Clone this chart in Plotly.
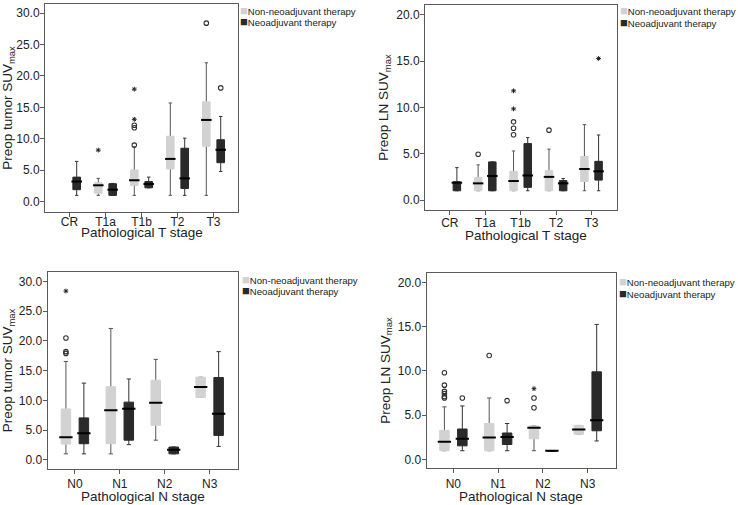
import plotly.graph_objects as go

t_stages = ["CR", "T1a", "T1b", "T2", "T3"]
n_stages = ["N0", "N1", "N2", "N3"]

# --- Preop tumor SUVmax by pathological T stage ---
tt_non_x = ["T1a", "T1b", "T2", "T3"]
tt_non_low = [1.0, 1.0, 1.0, 1.0]
tt_non_q1 = [1.35, 2.55, 5.2, 8.8]
tt_non_med = [2.6, 3.4, 6.8, 13.0]
tt_non_q3 = [3.0, 5.05, 10.4, 15.9]
tt_non_high = [3.7, 8.7, 15.7, 22.1]
tt_non_circ_x = ["T1b", "T1b", "T1b", "T3"]
tt_non_circ_y = [9.0, 11.75, 12.15, 28.4]
tt_non_star_x = ["T1a", "T1b", "T1b"]
tt_non_star_y = [8.2, 13.1, 17.9]

tt_neo_x = ["CR", "T1a", "T1b", "T2", "T3"]
tt_neo_low = [1.0, 1.0, 2.2, 1.0, 4.8]
tt_neo_q1 = [1.9, 1.0, 2.2, 2.1, 6.2]
tt_neo_med = [3.2, 1.9, 2.8, 3.7, 8.25]
tt_neo_q3 = [3.9, 2.85, 3.2, 8.5, 9.85]
tt_neo_high = [6.4, 2.9, 3.9, 10.1, 13.55]
tt_neo_circ_x = ["T3"]
tt_neo_circ_y = [18.1]
tt_neo_star_x = []
tt_neo_star_y = []

# --- Preop LN SUVmax by pathological T stage ---
lt_non_x = ["T1a", "T1b", "T2", "T3"]
lt_non_low = [1.0, 1.0, 1.0, 1.0]
lt_non_q1 = [1.0, 1.0, 1.0, 2.0]
lt_non_med = [1.8, 2.05, 2.5, 3.35]
lt_non_q3 = [2.45, 3.1, 3.2, 4.7]
lt_non_high = [3.8, 5.3, 5.5, 8.15]
lt_non_circ_x = ["T1a", "T1b", "T1b", "T1b", "T2"]
lt_non_circ_y = [4.95, 7.05, 7.75, 8.45, 7.55]
lt_non_star_x = ["T1b", "T1b"]
lt_non_star_y = [9.85, 11.8]

lt_neo_x = ["CR", "T1a", "T1b", "T2", "T3"]
lt_neo_low = [1.0, 1.0, 1.0, 1.0, 1.0]
lt_neo_q1 = [1.0, 1.0, 1.37, 1.0, 2.15]
lt_neo_med = [1.87, 2.6, 2.65, 1.8, 3.1]
lt_neo_q3 = [1.98, 4.12, 6.1, 2.1, 4.18]
lt_neo_high = [3.5, 4.12, 6.75, 2.32, 7.03]
lt_neo_circ_x = []
lt_neo_circ_y = []
lt_neo_star_x = ["T3"]
lt_neo_star_y = [15.3]

# --- Preop tumor SUVmax by pathological N stage ---
tn_non_x = ["N0", "N1", "N2", "N3"]
tn_non_low = [1.0, 1.0, 3.3, 10.5]
tn_non_q1 = [2.65, 2.7, 5.8, 10.5]
tn_non_med = [3.8, 8.35, 9.6, 12.25]
tn_non_q3 = [8.55, 12.3, 13.4, 13.9]
tn_non_high = [16.55, 22.1, 16.9, 13.9]
tn_non_circ_x = ["N0", "N0", "N0"]
tn_non_circ_y = [17.9, 18.2, 20.5]
tn_non_star_x = ["N0"]
tn_non_star_y = [28.4]

tn_neo_x = ["N0", "N1", "N2", "N3"]
tn_neo_low = [1.0, 2.55, 1.0, 2.25]
tn_neo_q1 = [2.7, 3.3, 1.0, 4.1]
tn_neo_med = [4.45, 8.6, 1.7, 7.75]
tn_neo_q3 = [7.05, 9.7, 2.15, 13.85]
tn_neo_high = [12.9, 13.6, 2.15, 18.2]
tn_neo_circ_x = []
tn_neo_circ_y = []
tn_neo_star_x = []
tn_neo_star_y = []

# --- Preop LN SUVmax by pathological N stage ---
ln_non_x = ["N0", "N1", "N2", "N3"]
ln_non_low = [1.0, 1.0, 1.0, 2.85]
ln_non_q1 = [1.0, 1.0, 2.35, 2.85]
ln_non_med = [2.0, 2.5, 3.6, 3.4]
ln_non_q3 = [3.3, 4.07, 3.8, 3.85]
ln_non_high = [5.95, 6.95, 3.8, 3.85]
ln_non_circ_x = ["N0", "N0", "N0", "N0", "N0", "N0", "N1", "N2", "N2"]
ln_non_circ_y = [9.8, 8.4, 7.7, 7.45, 7.1, 6.95, 11.75, 5.85, 6.95]
ln_non_star_x = ["N2"]
ln_non_star_y = [8.0]

ln_neo_x = ["N0", "N1", "N2", "N3"]
ln_neo_low = [1.0, 1.0, 1.0, 2.1]
ln_neo_q1 = [1.55, 1.7, 1.0, 3.25]
ln_neo_med = [2.35, 2.55, 1.0, 4.45]
ln_neo_q3 = [3.45, 3.0, 1.0, 9.9]
ln_neo_high = [6.05, 4.07, 1.0, 15.25]
ln_neo_circ_x = ["N0", "N1"]
ln_neo_circ_y = [6.95, 6.65]
ln_neo_star_x = []
ln_neo_star_y = []

W, H = 738, 505
LIGHT = "#d2d2d2"
DARK = "#2a2a2a"
FONT = "Liberation Sans, Arial, Helvetica, sans-serif"

fig = go.Figure()


def add_group(sub, group, x, low, q1, med, q3, high, cx, cy, sx, sy, fill, wcol, msize):
    xa = "x" if sub == 1 else f"x{sub}"
    ya = "y" if sub == 1 else f"y{sub}"
    # whiskers (collapsed box so only the fences are drawn)
    fig.add_trace(go.Box(x=x, q1=med, median=med, q3=med, lowerfence=low, upperfence=high,
                         xaxis=xa, yaxis=ya, offsetgroup=group, boxpoints=False,
                         fillcolor="rgba(0,0,0,0)", line=dict(color=wcol, width=1),
                         whiskerwidth=0.45, showlegend=False, hoverinfo="skip"))
    # the box itself, no outline
    fig.add_trace(go.Box(x=x, q1=q1, median=med, q3=q3, lowerfence=q1, upperfence=q3,
                         xaxis=xa, yaxis=ya, offsetgroup=group, boxpoints=False,
                         fillcolor=fill, line=dict(color=fill, width=1),
                         whiskerwidth=0, showlegend=False))
    # median bar
    fig.add_trace(go.Scatter(x=x, y=med, xaxis=xa, yaxis=ya, offsetgroup=group, mode="markers",
                             marker=dict(symbol="line-ew", size=msize,
                                         line=dict(color="black", width=2)),
                             showlegend=False, hoverinfo="skip"))
    # outliers (o) and extremes (*)
    fig.add_trace(go.Scatter(x=cx, y=cy, xaxis=xa, yaxis=ya, offsetgroup=group, mode="markers",
                             marker=dict(symbol="circle-open", size=4.5, color="#333",
                                         line=dict(width=1.1)),
                             showlegend=False))
    fig.add_trace(go.Scatter(x=sx, y=sy, xaxis=xa, yaxis=ya, offsetgroup=group, mode="markers",
                             marker=dict(symbol="asterisk-open", size=4, color="#222",
                                         line=dict(width=1)),
                             showlegend=False))


add_group(1, "non", tt_non_x, tt_non_low, tt_non_q1, tt_non_med, tt_non_q3, tt_non_high,
          tt_non_circ_x, tt_non_circ_y, tt_non_star_x, tt_non_star_y, LIGHT, "#555", 7.5)
add_group(1, "neo", tt_neo_x, tt_neo_low, tt_neo_q1, tt_neo_med, tt_neo_q3, tt_neo_high,
          tt_neo_circ_x, tt_neo_circ_y, tt_neo_star_x, tt_neo_star_y, DARK, "#333", 7.5)
add_group(2, "non", lt_non_x, lt_non_low, lt_non_q1, lt_non_med, lt_non_q3, lt_non_high,
          lt_non_circ_x, lt_non_circ_y, lt_non_star_x, lt_non_star_y, LIGHT, "#555", 7.5)
add_group(2, "neo", lt_neo_x, lt_neo_low, lt_neo_q1, lt_neo_med, lt_neo_q3, lt_neo_high,
          lt_neo_circ_x, lt_neo_circ_y, lt_neo_star_x, lt_neo_star_y, DARK, "#333", 7.5)
add_group(3, "non", tn_non_x, tn_non_low, tn_non_q1, tn_non_med, tn_non_q3, tn_non_high,
          tn_non_circ_x, tn_non_circ_y, tn_non_star_x, tn_non_star_y, LIGHT, "#555", 9.5)
add_group(3, "neo", tn_neo_x, tn_neo_low, tn_neo_q1, tn_neo_med, tn_neo_q3, tn_neo_high,
          tn_neo_circ_x, tn_neo_circ_y, tn_neo_star_x, tn_neo_star_y, DARK, "#333", 9.5)
add_group(4, "non", ln_non_x, ln_non_low, ln_non_q1, ln_non_med, ln_non_q3, ln_non_high,
          ln_non_circ_x, ln_non_circ_y, ln_non_star_x, ln_non_star_y, LIGHT, "#555", 9.5)
add_group(4, "neo", ln_neo_x, ln_neo_low, ln_neo_q1, ln_neo_med, ln_neo_q3, ln_neo_high,
          ln_neo_circ_x, ln_neo_circ_y, ln_neo_star_x, ln_neo_star_y, DARK, "#333", 9.5)


def px_x(v):
    return v / W


def px_y(v):
    return 1 - v / H


axis_common = dict(showline=True, mirror=True, linecolor="#5a5a5a", linewidth=1,
                   ticks="outside", ticklen=4, tickcolor="#5a5a5a", showgrid=False,
                   zeroline=False, tickfont=dict(size=12, color="#222"))

# pixel boxes of each panel frame: left, right, top, bottom
frames = {1: (45, 238, 4, 212), 2: (425, 617, 5, 210),
          3: (47.5, 237.5, 272, 469), 4: (426.5, 615.5, 273, 468)}
ytitles = {1: "Preop tumor SUV<sub>max</sub>", 2: "Preop LN SUV<sub>max</sub>",
           3: "Preop tumor SUV<sub>max</sub>", 4: "Preop LN SUV<sub>max</sub>"}
yranges = {1: [-1.65, 31.45], 2: [-1.08, 21.08], 3: [-1.55, 31.6], 4: [-0.95, 21.05]}
xranges = {1: [-0.68, 4.68], 2: [-0.7, 4.72], 3: [-0.61, 3.62], 4: [-0.6, 3.62]}
xlabel_shift = {1: -5, 2: -2, 3: 0, 4: 1}

layout_axes = {}
for i in range(1, 5):
    l, r, t, b = frames[i]
    sx = "xaxis" if i == 1 else f"xaxis{i}"
    sy = "yaxis" if i == 1 else f"yaxis{i}"
    ya = "y" if i == 1 else f"y{i}"
    xa = "x" if i == 1 else f"x{i}"
    cats = t_stages if i <= 2 else n_stages
    layout_axes[sx] = dict(axis_common, domain=[px_x(l), px_x(r)], anchor=ya,
                           type="category", categoryorder="array", categoryarray=cats,
                           range=xranges[i], ticklabelstandoff=xlabel_shift[i])
    layout_axes[sy] = dict(axis_common, domain=[px_y(b), px_y(t)], anchor=xa,
                           range=yranges[i], tick0=0, dtick=5, tickformat=".1f",
                           ticklabelstandoff=-2,
                           title=dict(text=ytitles[i], font=dict(size=13.5, color="#222"),
                                      standoff=4))

annotations = []

# x axis titles, set just under the tick labels
xtitle_pos = {1: ("Pathological T stage", 141.5, 232.5), 2: ("Pathological T stage", 526, 235.5),
              3: ("Pathological N stage", 142.5, 496), 4: ("Pathological N stage", 521, 496)}
for text, tx, ty in xtitle_pos.values():
    annotations.append(dict(x=px_x(tx), y=px_y(ty), xref="paper", yref="paper",
                            xanchor="center", yanchor="middle", text=text, showarrow=False,
                            font=dict(size=13.5, color="#222"), borderpad=0))

# legends beside each panel
legend_pos = {1: (239, 10, 21.5), 2: (619, 10, 22.5), 3: (241, 279, 290.5), 4: (618, 281.5, 293)}
for i, (lx, y1, y2) in legend_pos.items():
    for yy, col, label in [(y1, LIGHT, "Non-neoadjuvant therapy"), (y2, DARK, "Neoadjuvant therapy")]:
        annotations.append(dict(
            x=px_x(lx), y=px_y(yy), xref="paper", yref="paper", xanchor="left", yanchor="middle",
            text=f'<span style="color:{col};font-size:13px">■</span>{label}',
            showarrow=False, font=dict(size=9.6, color="#222"), borderpad=0))

fig.update_layout(
    width=W, height=H,
    margin=dict(l=0, r=0, t=0, b=0),
    paper_bgcolor="white", plot_bgcolor="white",
    font=dict(family=FONT, color="#222"),
    boxmode="group", boxgap=0.2, boxgroupgap=0.47,
    scattermode="group", scattergap=0.2,
    showlegend=False,
    annotations=annotations,
    **layout_axes,
)

# drop the default page margin so the figure sits at the window corner
fig.write_html("out.html", config={"displayModeBar": False},
               post_script="document.body.style.margin = '0px';")
